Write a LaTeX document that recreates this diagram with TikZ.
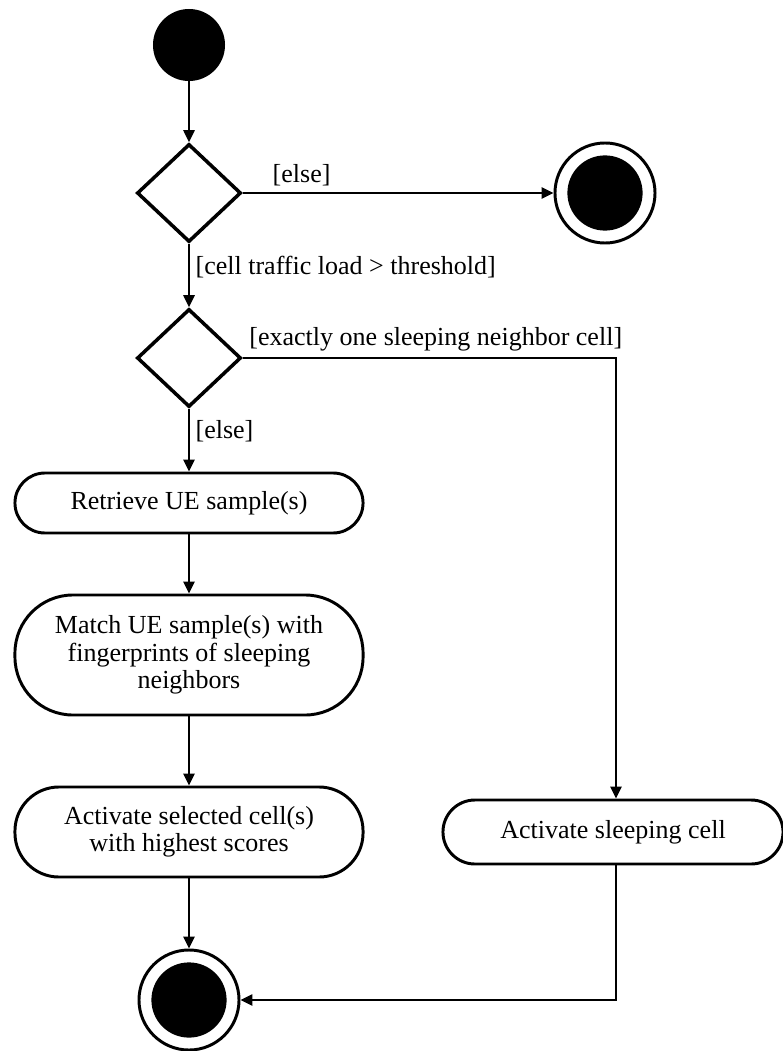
\documentclass[tikz,border=0pt]{standalone}
\usepackage{fontspec}
\setmainfont{Liberation Serif}
\newfontfamily\diagfont{Liberation Serif}
\usetikzlibrary{arrows.meta, positioning, shapes.geometric}

\begin{document}
\begin{tikzpicture}[
    x=0.025cm, y=-0.025cm,
    font=\diagfont\fontsize{18.5}{19.5}\selectfont,
    initial/.style={circle, fill=black, minimum size=1.8cm, inner sep=0pt},
    final/.style={circle, draw, line width=2.1pt, minimum size=2.5cm, inner sep=0pt,
        path picture={\fill (path picture bounding box.center) circle (0.94cm);}},
    decision/.style={diamond, draw, line width=2.5pt, minimum width=2.6cm, minimum height=2.45cm, inner sep=0pt},
    action/.style={rectangle, rounded corners=0.75cm, draw, line width=2.1pt, minimum width=8.7cm, minimum height=1.5cm, align=center, inner sep=0pt},
    arrow/.style={-{Triangle[length=0.3cm, width=0.28cm]}, line width=1.4pt},
    guard/.style={inner sep=4pt}
]
\useasboundingbox (0,0) rectangle (782,1051);

\node[initial] (start) at (189,45) {};
\node[decision] (check) at (189,193) {};
\node[final] (stop) at (605,193) {};
\node[decision] (count) at (189,358) {};
\node[action] (retrieve) at (189,503) {Retrieve UE sample(s)};
\node[action, minimum height=3cm, rounded corners=1.45cm] (match) at (189,655) {Match UE sample(s) with\\fingerprints of sleeping\\neighbors};
\node[action, minimum height=2.25cm, rounded corners=1.1cm] (select) at (189,832) {Activate selected cell(s)\\with highest scores};
\node[action, minimum width=8.5cm, minimum height=1.6cm, rounded corners=0.8cm] (wake) at (613,832) {Activate sleeping cell};
\node[final] (done) at (189,1000) {};
\coordinate (bend) at (616,358);

\draw[arrow] (start) -- (check);
\draw[arrow] (check.east) -- (stop.west) node[pos=0.075, above right, guard] {[else]};
\draw[arrow] (check.south) -- (count.north) node[pos=0.36, right, guard] {[cell traffic load > threshold]};
\draw[arrow] (count.east) -| (wake.north -| bend) node[pos=0, above right, guard] {[exactly one sleeping neighbor cell]};
\draw[arrow] (count.south) -- (retrieve.north) node[pos=0.36, right, guard] {[else]};
\draw[arrow] (retrieve) -- (match);
\draw[arrow] (match) -- (select);
\draw[arrow] (select) -- (done);
\draw[arrow] (wake.south -| bend) |- (done.east);

\end{tikzpicture}
\end{document}
